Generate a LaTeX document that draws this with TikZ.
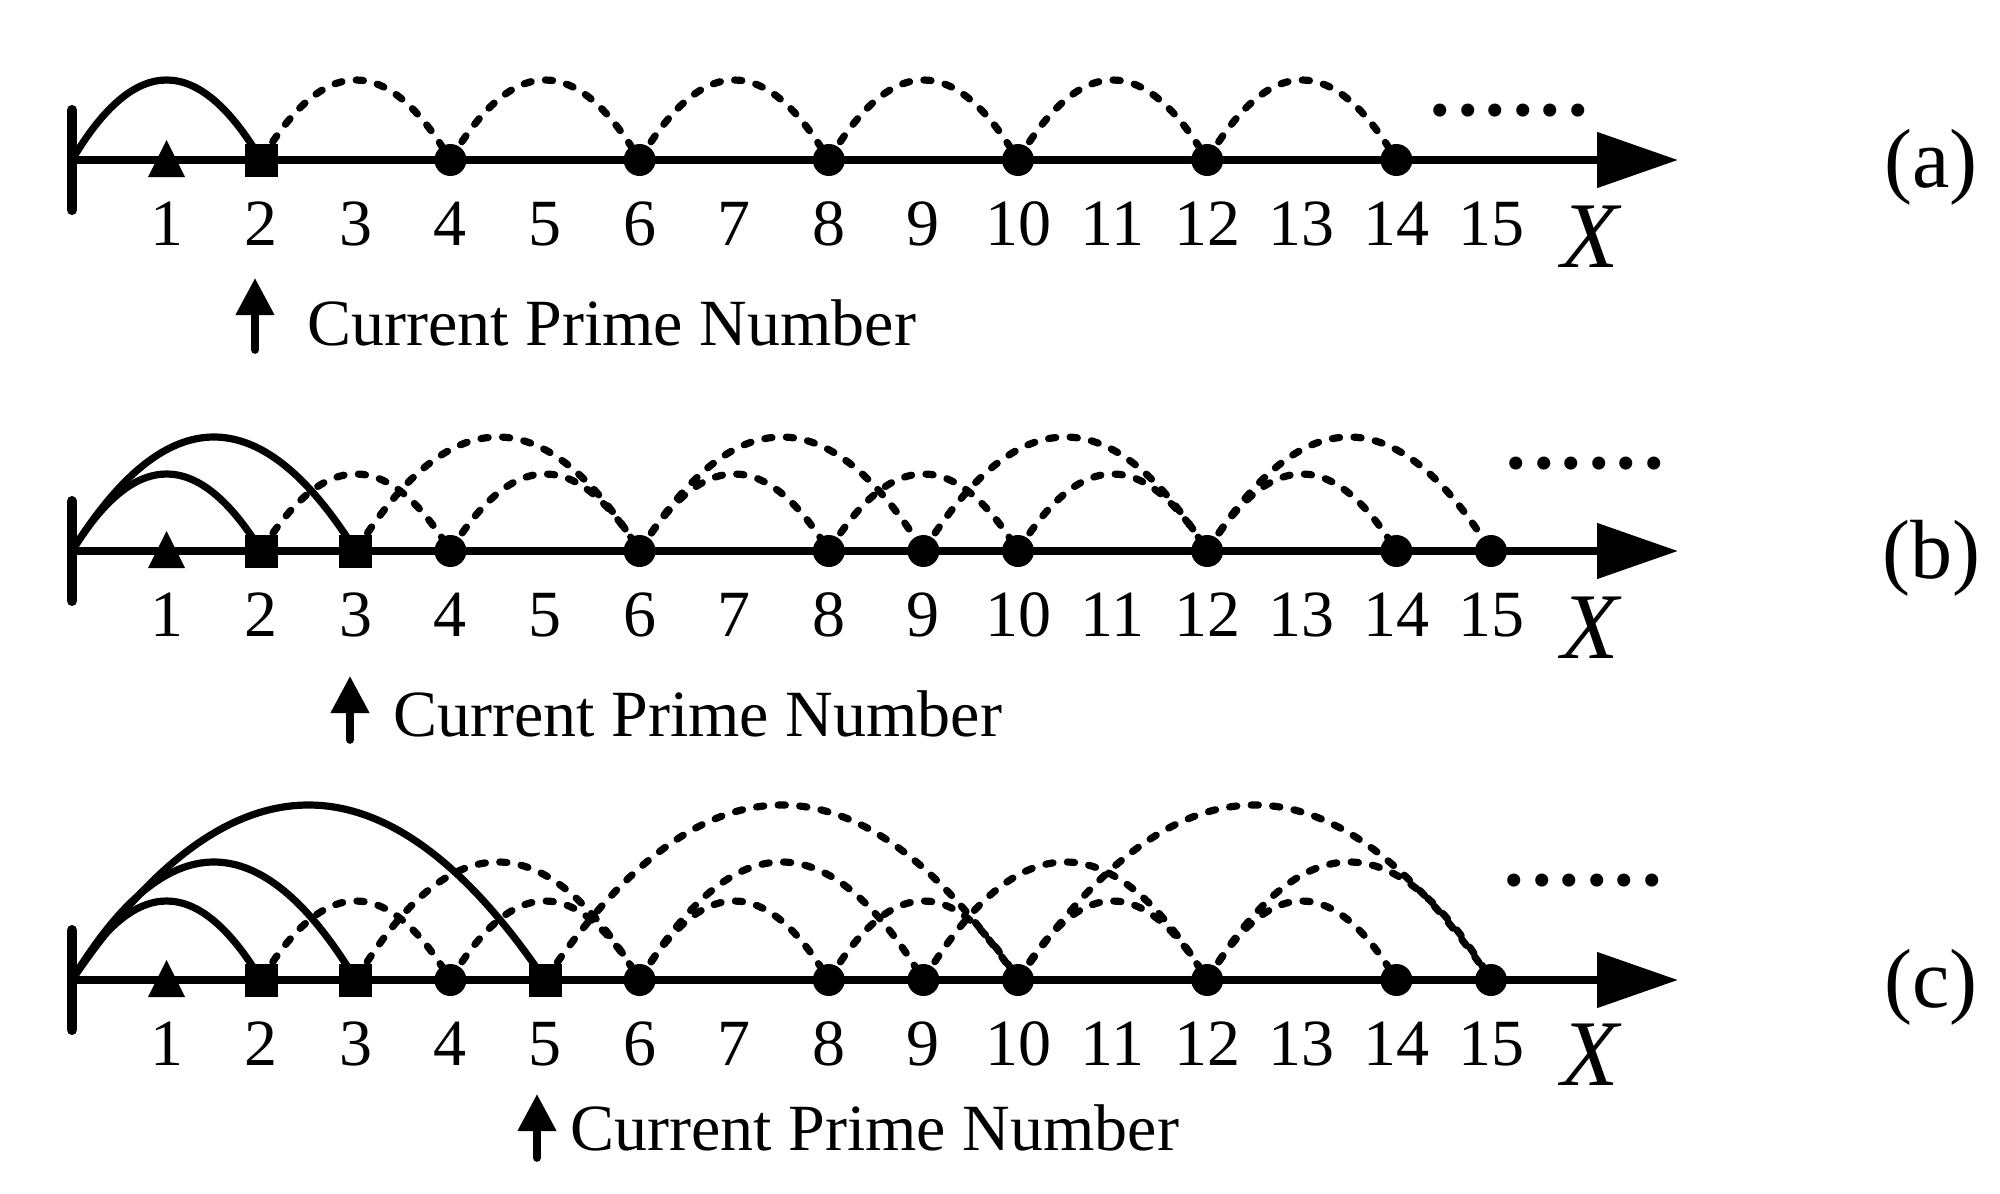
\documentclass[tikz,border=0pt]{standalone}
\usepackage{fontspec}
\setmainfont{Liberation Serif}
\usetikzlibrary{calc,arrows.meta}
\newcommand\hoparc[4]{\draw[#1] (#2) .. controls ($(#2)!1/3!(#3)+(0,{-4*#4/3})$) and ($(#2)!2/3!(#3)+(0,{-4*#4/3})$) .. (#3);}
\begin{document}
\begin{tikzpicture}[x=0.5pt,y=-0.5pt,
  axisline/.style={line width=4pt,-{Triangle[length=40.5pt,width=27pt]}},
  zerobar/.style={line width=5pt,line cap=round},
  solidarc/.style={line width=3.6pt},
  dasharc/.style={line width=3.6pt,line cap=round,dash pattern=on 3.6pt off 7.2pt},
  sqmark/.style={rectangle,fill=black,minimum size=16.5pt,inner sep=0pt},
  cmark/.style={circle,fill=black,minimum size=16pt,inner sep=0pt},
  num/.style={font=\fontsize{33}{36}\selectfont,anchor=base,inner sep=0pt},
  xlab/.style={font=\fontsize{47}{50}\selectfont\itshape,anchor=base,inner sep=0pt},
  plab/.style={font=\fontsize{42}{45}\selectfont,anchor=base,inner sep=0pt},
  cpn/.style={font=\fontsize{33}{36}\selectfont,anchor=base west,inner sep=0pt},
  moredots/.style={font=\fontsize{55}{58}\selectfont,anchor=base,inner sep=0pt},
  cparrow/.style={line width=3.8pt,line cap=round,-{Triangle[length=18.5pt,width=18.5pt]}}]
\useasboundingbox (0,0) rectangle (2000,1193);

% ---------- panel (a) ----------
\foreach \i in {0,...,15} {\coordinate (a\i) at ({72+94.6*\i},160);}
\coordinate (aend) at (1678,160);
\draw[zerobar] (72,110) -- (72,210);
\draw[axisline] (a0) -- (aend);
\hoparc{solidarc}{a0}{a2}{80}
\foreach \i/\j in {2/4,4/6,6/8,8/10,10/12,12/14} {\hoparc{dasharc}{a\i}{a\j}{80}}
\fill ($(a1)+(-18.5,17)$) -- ($(a1)+(18.5,17)$) -- ($(a1)+(0,-20)$) -- cycle;
\node[sqmark] (sa2) at (a2) {};
\foreach \i in {4,6,8,10,12,14} {\node[cmark] (ca\i) at (a\i) {};}
\foreach \i in {1,...,15} {\node[num] (na\i) at ({72+94.6*\i},245) {\i};}
\node[xlab] (xa) at (1590,267) {X};
\node[plab] (la) at (1931,187) {(a)};
\node[moredots] (da) at (1509,116) {......};
\coordinate (pa1) at (255,350);
\coordinate (pa2) at (255,278);
\draw[cparrow] (pa1) -- (pa2);
\node[cpn] (ta) at (307,345) {Current Prime Number};

% ---------- panel (b) ----------
\foreach \i in {0,...,15} {\coordinate (b\i) at ({72+94.6*\i},551);}
\coordinate (bend) at (1678,551);
\draw[zerobar] (72,501) -- (72,601);
\draw[axisline] (b0) -- (bend);
\hoparc{solidarc}{b0}{b2}{77}
\hoparc{solidarc}{b0}{b3}{114}
\foreach \i/\j in {2/4,4/6,6/8,8/10,10/12,12/14} {\hoparc{dasharc}{b\i}{b\j}{77}}
\foreach \i/\j in {3/6,6/9,9/12,12/15} {\hoparc{dasharc}{b\i}{b\j}{114}}
\fill ($(b1)+(-18.5,17)$) -- ($(b1)+(18.5,17)$) -- ($(b1)+(0,-20)$) -- cycle;
\node[sqmark] (sb2) at (b2) {};
\node[sqmark] (sb3) at (b3) {};
\foreach \i in {4,6,8,9,10,12,14,15} {\node[cmark] (cb\i) at (b\i) {};}
\foreach \i in {1,...,15} {\node[num] (nb\i) at ({72+94.6*\i},636) {\i};}
\node[xlab] (xb) at (1590,658) {X};
\node[plab] (lb) at (1931,578) {(b)};
\node[moredots] (db) at (1585,468) {......};
\coordinate (pb1) at (350,740);
\coordinate (pb2) at (350,676);
\draw[cparrow] (pb1) -- (pb2);
\node[cpn] (tb) at (393,736) {Current Prime Number};

% ---------- panel (c) ----------
\foreach \i in {0,...,15} {\coordinate (c\i) at ({72+94.6*\i},980);}
\coordinate (cend) at (1678,980);
\draw[zerobar] (72,930) -- (72,1030);
\draw[axisline] (c0) -- (cend);
\hoparc{solidarc}{c0}{c2}{79}
\hoparc{solidarc}{c0}{c3}{118}
\hoparc{solidarc}{c0}{c5}{175}
\foreach \i/\j in {2/4,4/6,6/8,8/10,10/12,12/14} {\hoparc{dasharc}{c\i}{c\j}{79}}
\foreach \i/\j in {3/6,6/9,9/12,12/15} {\hoparc{dasharc}{c\i}{c\j}{118}}
\foreach \i/\j in {5/10,10/15} {\hoparc{dasharc}{c\i}{c\j}{175}}
\fill ($(c1)+(-18.5,17)$) -- ($(c1)+(18.5,17)$) -- ($(c1)+(0,-20)$) -- cycle;
\node[sqmark] (sc2) at (c2) {};
\node[sqmark] (sc3) at (c3) {};
\node[sqmark] (sc5) at (c5) {};
\foreach \i in {4,6,8,9,10,12,14,15} {\node[cmark] (cc\i) at (c\i) {};}
\foreach \i in {1,...,15} {\node[num] (nc\i) at ({72+94.6*\i},1065) {\i};}
\node[xlab] (xc) at (1590,1085) {X};
\node[plab] (lc) at (1931,1007) {(c)};
\node[moredots] (dc) at (1583,885) {......};
\coordinate (pc1) at (537,1158);
\coordinate (pc2) at (537,1094);
\draw[cparrow] (pc1) -- (pc2);
\node[cpn] (tc) at (570,1150) {Current Prime Number};
\end{tikzpicture}
\end{document}
